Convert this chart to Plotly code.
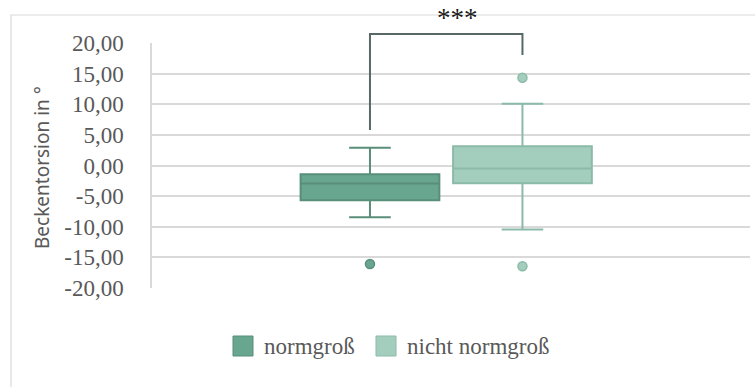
import plotly.graph_objects as go

# Beckentorsion (°) summary statistics per group
groups = ["normgroß", "nicht normgroß"]
lower_fence = [-8.45, -10.46]
q1 = [-5.67, -2.89]
median = [-2.94, -0.48]
q3 = [-1.42, 3.16]
upper_fence = [2.88, 10.08]
outliers = [[-16.08], [14.33, -16.46]]

# significance bracket: left end, right end, top (in y units)
bracket_ends = [5.78, 18.04]
bracket_top = 21.47
sig_label = "***"

y_range = [-20, 20]
y_ticks = [-20, -15, -10, -5, 0, 5, 10, 15, 20]
# German number format with a plain hyphen as minus sign
y_ticktext = [f"{v:.2f}".replace(".", ",") for v in y_ticks]

positions = [0.3645, 0.6195]
box_width = 0.232
fills = ["rgb(104,166,144)", "rgb(163,206,190)"]
lines = ["rgb(88,142,122)", "rgb(140,186,169)"]
grey = "#595959"
grid = "#D9D9D9"
serif = "'Liberation Serif', 'Times New Roman', Tinos, serif"


def y_to_paper(v):
    # the y axis fills the whole plot area, so paper y is a linear map of the range
    return (v - y_range[0]) / (y_range[1] - y_range[0])


fig = go.Figure()
for i, name in enumerate(groups):
    fig.add_trace(go.Box(
        x=[positions[i]], name=name,
        q1=[q1[i]], median=[median[i]], q3=[q3[i]],
        lowerfence=[lower_fence[i]], upperfence=[upper_fence[i]],
        width=box_width, whiskerwidth=0.3,
        fillcolor=fills[i], line=dict(color=lines[i], width=2),
        showlegend=False, hoverinfo="skip",
    ))
    fig.add_trace(go.Scatter(
        x=[positions[i]] * len(outliers[i]), y=outliers[i], mode="markers",
        marker=dict(size=9, color=fills[i], line=dict(color=lines[i], width=1.5)),
        showlegend=False, hoverinfo="skip",
    ))

# significance bracket in paper coordinates so it can rise above the plot area
bracket_path = (f"M{positions[0]},{y_to_paper(bracket_ends[0])} "
                f"L{positions[0]},{y_to_paper(bracket_top)} "
                f"L{positions[1]},{y_to_paper(bracket_top)} "
                f"L{positions[1]},{y_to_paper(bracket_ends[1])}")
shapes = [
    dict(type="path", xref="paper", yref="paper", path=bracket_path,
         line=dict(color="rgb(88,104,104)", width=2)),
    # outer chart frame
    dict(type="rect", xref="paper", yref="paper", x0=-0.2358, x1=1.05, y0=-0.6, y1=1.1143,
         line=dict(color=grid, width=1.2), fillcolor="rgba(0,0,0,0)", layer="below"),
]
annotations = [
    dict(text=sig_label, x=(457 - 152) / 598, y=(288 - 18) / 245, xref="paper", yref="paper",
         showarrow=False, yanchor="middle",
         font=dict(family=serif, size=27, color="#1a1a1a")),
    dict(text="Beckentorsion in °", x=(27 - 152) / 598, y=(288 - 168) / 245,
         xref="paper", yref="paper",
         showarrow=False, textangle=-90, font=dict(family="Noto Sans", size=19, color=grey)),
]

# legend swatches and labels
legend_x = [(233 - 152) / 598, (376 - 152) / 598]
legend_y = (288 - 346) / 245
sw_w = 20 / 598
sw_h = 20 / 245
for i, name in enumerate(groups):
    shapes.append(dict(type="rect", xref="paper", yref="paper",
                       x0=legend_x[i], x1=legend_x[i] + sw_w,
                       y0=legend_y - sw_h / 2, y1=legend_y + sw_h / 2,
                       fillcolor=fills[i], line=dict(color=lines[i], width=1)))
    annotations.append(dict(text=name, x=legend_x[i] + sw_w + 9 / 598, y=legend_y,
                            xref="paper", yref="paper", xanchor="left", yanchor="middle",
                            showarrow=False,
                            font=dict(family=serif, size=23, color=grey)))

fig.update_layout(
    width=755, height=387,
    margin=dict(l=152, r=5, t=43, b=99),
    paper_bgcolor="white", plot_bgcolor="white",
    xaxis=dict(range=[0, 1], showgrid=False, zeroline=False, showticklabels=False,
               showline=False, fixedrange=True),
    yaxis=dict(range=y_range, tickvals=y_ticks, ticktext=y_ticktext,
               showgrid=True, gridcolor=grid, gridwidth=1.5, zeroline=False,
               showline=True, linecolor=grid, linewidth=1.5,
               ticks="", ticklabelstandoff=22,
               tickfont=dict(family=serif, size=23, color=grey)),
    shapes=shapes, annotations=annotations,
    showlegend=False,
)

fig.write_html("out.html")
